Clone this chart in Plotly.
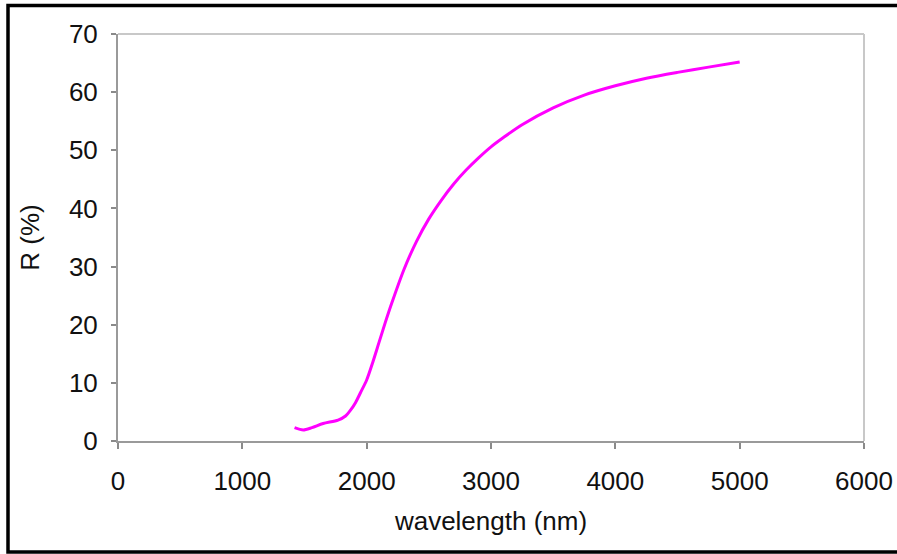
import plotly.graph_objects as go

wavelength_nm = [1420, 1490, 1560, 1650, 1770, 1830, 1870, 1910, 1950, 2000, 2050, 2100,
                 2150, 2200, 2300, 2400, 2500, 2600, 2700, 2800, 2900, 3000, 3100, 3250,
                 3500, 3750, 4000, 4250, 4500, 4750, 5000]
reflectance_pct = [2.3, 1.9, 2.3, 3.0, 3.6, 4.3, 5.3, 6.6, 8.3, 10.5, 13.6, 17.0,
                   20.4, 23.6, 29.5, 34.3, 38.2, 41.4, 44.2, 46.6, 48.7, 50.6, 52.2, 54.4,
                   57.3, 59.5, 61.1, 62.4, 63.4, 64.3, 65.2]

x_ticks = [0, 1000, 2000, 3000, 4000, 5000, 6000]
y_ticks = [0, 10, 20, 30, 40, 50, 60, 70]

W, H = 897, 554
L_pg, R_pg, T_pg, B_pg = 118, 864, 34, 441
ML, MT = L_pg, T_pg
MR, MB = W - R_pg, H - B_pg
pw, ph = W - ML - MR, H - MT - MB

def px(xp):
    return (xp - ML) / pw

def py(yp):
    return (H - MB - yp) / ph

fig = go.Figure()
fig.add_trace(go.Scatter(
    x=wavelength_nm, y=reflectance_pct, mode="lines",
    line=dict(color="#FF00FF", width=3, shape="spline", smoothing=0.8),
    hoverinfo="skip", showlegend=False))

font = dict(family="Liberation Sans, Arial, sans-serif", size=26, color="#111111")

fig.update_layout(
    width=W, height=H,
    margin=dict(l=ML, r=MR, t=MT, b=MB, pad=0, autoexpand=False),
    paper_bgcolor="white", plot_bgcolor="white",
    font=font,
    xaxis=dict(range=[0, 6000], tickvals=x_ticks, ticktext=[str(v) for v in x_ticks],
               showgrid=False, zeroline=False, showline=True, linecolor="#9a9a9a", linewidth=2,
               ticks="outside", ticklen=6, tickwidth=2, tickcolor="#8a8a8a",
               tickfont=font, ticklabelstandoff=10, automargin=False,
               title=dict(text="wavelength (nm)", font=font, standoff=17)),
    yaxis=dict(range=[0, 70], tickvals=y_ticks, ticktext=[str(v) for v in y_ticks],
               showgrid=False, zeroline=False, showline=True, linecolor="#9a9a9a", linewidth=2,
               ticks="outside", ticklen=5, tickwidth=2, tickcolor="#8a8a8a",
               tickfont=font, ticklabelstandoff=8, automargin=False,
               title=dict(text="R (%)", font=font, standoff=22)),
    shapes=[
        dict(type="line", xref="paper", yref="paper", x0=0, x1=1, y0=1, y1=1,
             line=dict(color="#c8c8c8", width=2)),
        dict(type="line", xref="paper", yref="paper", x0=1, x1=1, y0=0, y1=1,
             line=dict(color="#c8c8c8", width=2)),
        dict(type="rect", xref="paper", yref="paper",
             x0=px(8), x1=px(900), y0=py(552), y1=py(5.5),
             line=dict(color="black", width=3.5), layer="above"),
    ],
)

fig.write_html(
    "out.html",
    config={"displayModeBar": False, "staticPlot": True},
    post_script="document.body.style.margin='0';document.body.style.padding='0';"
                "document.documentElement.style.overflow='hidden';",
)
